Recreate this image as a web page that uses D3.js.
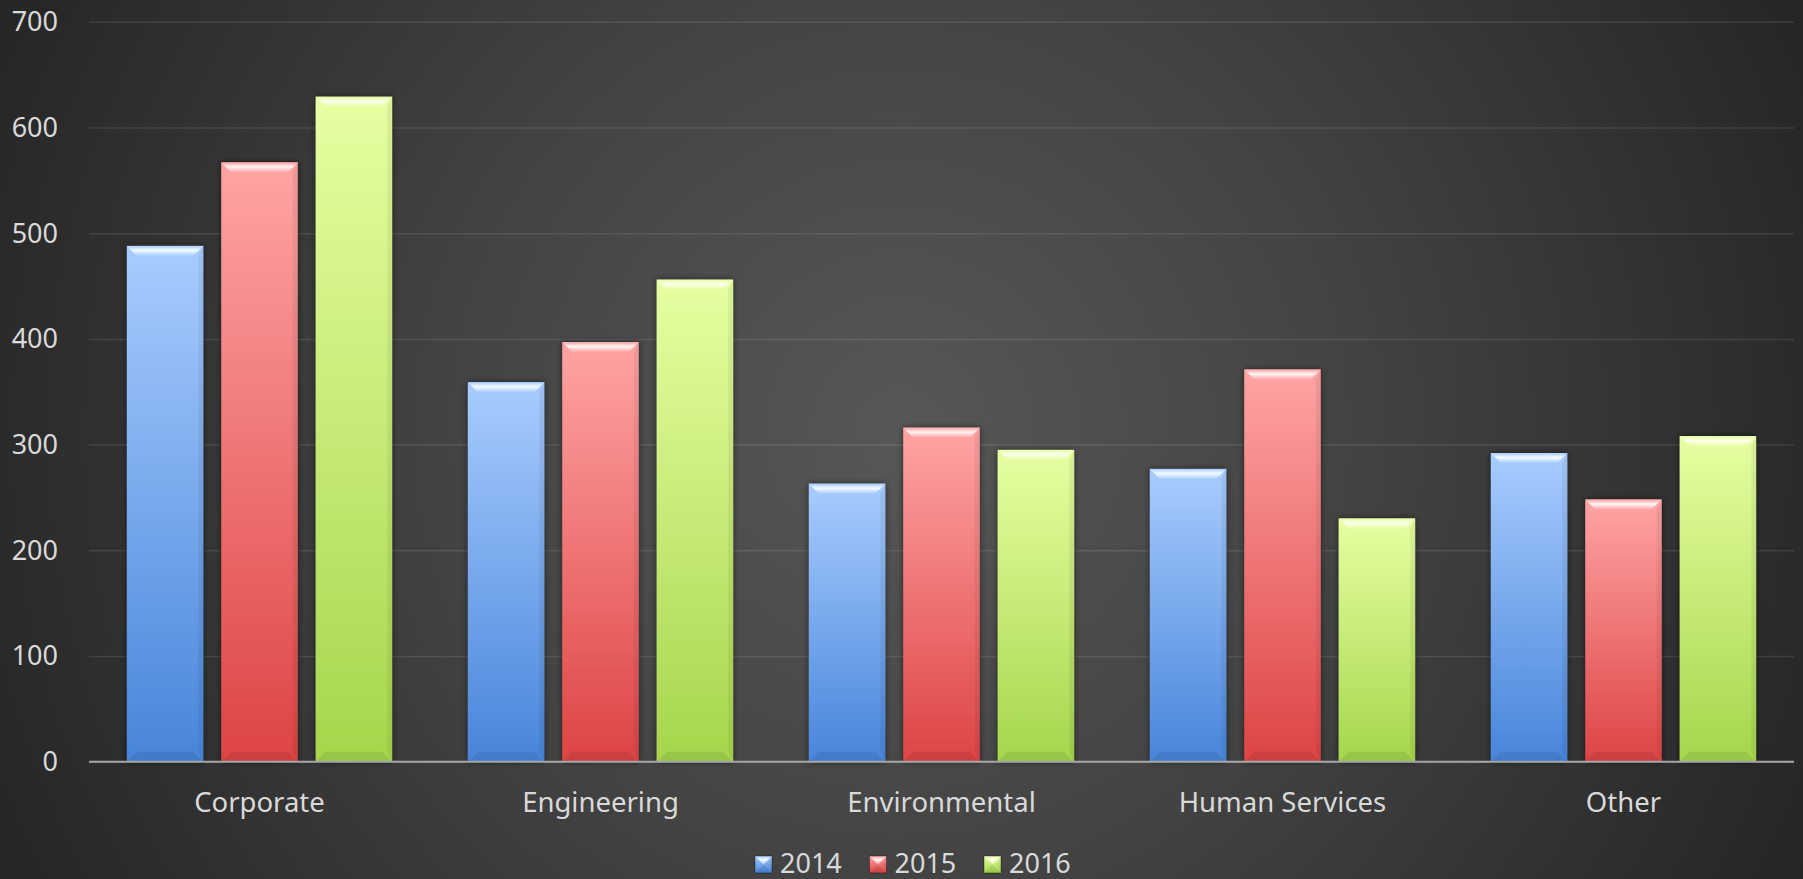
<!DOCTYPE html>
<html>
<head>
<meta charset="utf-8">
<script src="https://cdn.jsdelivr.net/npm/d3@7"></script>
<style>
  body { margin: 0; background: #262626; }
  svg { display: block; }
</style>
</head>
<body>
<div id="container"></div>
<script>
let w = 1803;
let h = 879;

// data
let categories = ["Corporate", "Engineering", "Environmental", "Human Services", "Other"];
let years = ["2014", "2015", "2016"];
let values2014 = [488, 359, 263, 277, 292];
let values2015 = [567, 397, 316, 371, 248];
let values2016 = [629, 456, 295, 230, 308];
let yTicks = [0, 100, 200, 300, 400, 500, 600, 700];

let series = [values2014, values2015, values2016];

// colours per year: top of face, bottom of face, bevel highlight
let faceTop = ["#a8ccff", "#ffa4a4", "#e6ffa2"];
let faceBottom = ["#4885da", "#de4444", "#a6d64c"];
let bevelLight = ["#f4fbff", "#fff4f4", "#fdffec"];

let font = "'Noto Sans', 'Open Sans', sans-serif";
let textColor = "#d9d9d9";

let plotLeft = 89, plotRight = 1794, plotTop = 21.8, plotBottom = 761.7;

let viz = d3.select("#container")
  .append("svg")
  .attr("width", w)
  .attr("height", h);

let defs = viz.append("defs");

let bg = defs.append("radialGradient")
  .attr("id", "bg")
  .attr("gradientUnits", "userSpaceOnUse")
  .attr("cx", 900)
  .attr("cy", 430)
  .attr("r", 1000);
bg.append("stop").attr("offset", 0).attr("stop-color", "#575757");
bg.append("stop").attr("offset", 0.45).attr("stop-color", "#434343");
bg.append("stop").attr("offset", 1).attr("stop-color", "#252525");

years.forEach(function(y, i) {
  let g = defs.append("linearGradient")
    .attr("id", "face" + i)
    .attr("x1", 0).attr("y1", 0).attr("x2", 0).attr("y2", 1);
  g.append("stop").attr("offset", 0).attr("stop-color", faceTop[i]);
  g.append("stop").attr("offset", 1).attr("stop-color", faceBottom[i]);

  let b = defs.append("linearGradient")
    .attr("id", "bevel" + i)
    .attr("x1", 0).attr("y1", 0).attr("x2", 0).attr("y2", 1);
  b.append("stop").attr("offset", 0).attr("stop-color", faceTop[i]);
  b.append("stop").attr("offset", 0.45).attr("stop-color", bevelLight[i]);
  b.append("stop").attr("offset", 1).attr("stop-color", faceTop[i]);
});

let shadow = defs.append("filter")
  .attr("id", "shadow")
  .attr("x", "-20%").attr("y", "-5%")
  .attr("width", "140%").attr("height", "110%");
shadow.append("feDropShadow")
  .attr("dx", 0).attr("dy", 0)
  .attr("stdDeviation", 3)
  .attr("flood-color", "#000")
  .attr("flood-opacity", 0.55);

viz.append("rect")
  .attr("width", w)
  .attr("height", h)
  .attr("fill", "url(#bg)");

let yScale = d3.scaleLinear().domain([0, 700]).range([plotBottom, plotTop]);
let xScale = d3.scaleBand().domain(categories).range([plotLeft, plotRight]);
let band = xScale.bandwidth();
let xInner = d3.scaleBand().domain(years)
  .range([band * 0.111, band * 0.889])
  .paddingInner(0.19);

// gridlines and y labels
let yAxis = d3.axisLeft(yScale)
  .tickValues(yTicks)
  .tickSize(-(plotRight - plotLeft))
  .tickPadding(31)
  .tickFormat(d3.format("d"));

let yg = viz.append("g")
  .attr("transform", "translate(" + plotLeft + ",0)")
  .call(yAxis);
yg.select(".domain").remove();
yg.selectAll(".tick line")
  .attr("stroke", "rgba(255,255,255,0.1)")
  .attr("stroke-width", 1.5);
yg.selectAll(".tick text")
  .attr("fill", textColor)
  .style("font-family", font)
  .style("font-size", "27px")
  .attr("dy", "0.33em");

// bars
function drawBar(g, x, y, bw, bh, i, b) {
  g.append("rect")
    .attr("x", x).attr("y", y)
    .attr("width", bw).attr("height", bh)
    .attr("fill", "url(#face" + i + ")");
  let bb = Math.min(b, bh / 2, bw / 2);
  // top bevel
  g.append("polygon")
    .attr("points", [[x, y], [x + bw, y], [x + bw - bb, y + bb], [x + bb, y + bb]].join(" "))
    .attr("fill", "url(#bevel" + i + ")");
  // right bevel, a little darker
  g.append("polygon")
    .attr("points", [[x + bw, y], [x + bw, y + bh], [x + bw - bb / 2, y + bh - bb], [x + bw - bb / 2, y + bb]].join(" "))
    .attr("fill", "#000").attr("fill-opacity", 0.06);
  // bottom bevel, darker
  g.append("polygon")
    .attr("points", [[x, y + bh], [x + bb, y + bh - bb], [x + bw - bb, y + bh - bb], [x + bw, y + bh]].join(" "))
    .attr("fill", "#000").attr("fill-opacity", 0.08);
}

let groups = viz.selectAll(".datagroup").data(categories).enter()
  .append("g")
  .attr("class", "datagroup")
  .attr("transform", function(d) { return "translate(" + xScale(d) + ",0)"; });

groups.each(function(d, ci) {
  let g = d3.select(this);
  years.forEach(function(yr, si) {
    let v = series[si][ci];
    let bar = g.append("g").attr("filter", "url(#shadow)");
    drawBar(bar, xInner(yr), yScale(v), xInner.bandwidth(), yScale(0) - yScale(v), si, 10);
  });
});

// x axis line
viz.append("line")
  .attr("x1", plotLeft).attr("x2", plotRight)
  .attr("y1", plotBottom).attr("y2", plotBottom)
  .attr("stroke", "#a6a6a6")
  .attr("stroke-width", 2);

// category labels
viz.selectAll(".catlabel").data(categories).enter()
  .append("text")
  .attr("class", "catlabel")
  .text(function(d) { return d; })
  .attr("x", function(d) { return xScale(d) + band / 2; })
  .attr("y", 811.5)
  .attr("text-anchor", "middle")
  .attr("fill", textColor)
  .style("font-family", font)
  .style("font-size", "27.5px");

// legend
let legend = viz.append("g").attr("transform", "translate(755,856)");
let items = legend.selectAll(".legenditem").data(years).enter()
  .append("g")
  .attr("class", "legenditem")
  .attr("transform", function(d, i) { return "translate(" + (i * 114.5) + ",0)"; });

items.each(function(d, i) {
  let g = d3.select(this);
  drawBar(g, 0, 0, 17, 17, i, 8.5);
  g.append("rect")
    .attr("width", 17).attr("height", 17)
    .attr("fill", "none")
    .attr("stroke", "rgba(0,0,0,0.35)")
    .attr("stroke-width", 1);
  g.append("text")
    .text(d)
    .attr("x", 25)
    .attr("y", 17)
    .attr("fill", textColor)
    .style("font-family", font)
    .style("font-size", "27px");
});
</script>
</body>
</html>
